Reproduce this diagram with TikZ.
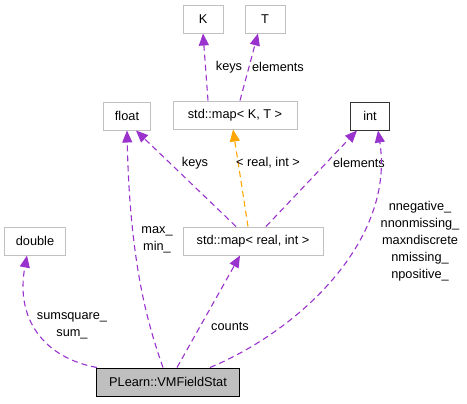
\documentclass[tikz,border=0pt]{standalone}
\usepackage{fontspec}
\setmainfont{Liberation Sans}
\usetikzlibrary{arrows.meta,calc}
\definecolor{edgep}{HTML}{9A32CD}
\definecolor{edgeo}{HTML}{FFA500}
\definecolor{boxg}{HTML}{C0C0C0}
\definecolor{fillg}{HTML}{BFBFBF}
\begin{document}
\begin{tikzpicture}[x=1bp,y=-1bp,
  box/.style={draw=boxg, line width=1bp, minimum height=28bp, inner sep=0pt, fill=white, font=\fontsize{12.8}{17}\selectfont},
  lbl/.style={font=\fontsize{12.8}{17}\selectfont, inner sep=0pt, align=center},
  dep/.style={draw=edgep, line width=1.1bp, dash pattern=on 6bp off 4bp, -{Triangle[length=12bp,width=10bp,fill=edgep]}},
  tpl/.style={draw=edgeo, line width=1.1bp, dash pattern=on 6bp off 4bp, -{Triangle[length=12bp,width=10bp,fill=edgeo]}}
]
\useasboundingbox (0,0) rectangle (467,403);
% nodes
\node[box, minimum width=40bp] (K) at (203,19) {K};
\node[box, minimum width=40bp] (T) at (265,19) {T};
\node[box, minimum width=124bp] (mapKT) at (235,115) {std::map< K, T >};
\node[box, minimum width=47bp] (float) at (127,116) {float};
\node[box, minimum width=39bp, draw=black!80] (int) at (370,116) {int};
\node[box, minimum width=61bp] (double) at (35,241) {double};
\node[box, minimum width=140bp] (mapRI) at (253,241) {std::map< real, int >};
\node[box, minimum width=143bp, draw=black, fill=fillg] (vm) at (168,382) {PLearn::VMFieldStat};
% edges
\draw[dep] ([xshift=-27bp]mapKT.north) -- ([xshift=0bp]K.south);
\node[lbl] (lk) at (229,67) {keys};
\draw[dep] ([xshift=5bp]mapKT.north) -- ([xshift=-7bp]T.south);
\node[lbl] (le) at (278,67) {elements};
\draw[tpl] ([xshift=-5bp]mapRI.north) -- ([xshift=-2bp]mapKT.south);
\node[lbl] (lr) at (268,163) {< real, int >};
\draw[dep] ([xshift=-17bp]mapRI.north) -- ([xshift=9bp]float.south);
\node[lbl] (lk2) at (195,163) {keys};
\draw[dep] ([xshift=13bp]mapRI.north) -- ([xshift=-13bp]int.south);
\node[lbl] (le2) at (359,163) {elements};
\draw[dep] ([xshift=42bp]vm.north) .. controls (300,330) and (395,240) .. ([xshift=8bp]int.south);
\node[lbl] (ln) at (420,241) {nnegative\_\\nnonmissing\_\\maxndiscrete\\nmissing\_\\npositive\_};
\draw[dep] ([xshift=-5bp]vm.north) .. controls (150,330) and (130,270) .. (float.south);
\node[lbl] (lm) at (157,240) {max\_\\min\_};
\draw[dep] ([xshift=9bp]vm.north) -- ([xshift=-13bp]mapRI.south);
\node[lbl] (lc) at (230,326) {counts};
\draw[dep] ([xshift=-71bp]vm.north) .. controls (45,358) and (15,320) .. ([xshift=-8bp]double.south);
\node[lbl] (ls) at (72,326) {sumsquare\_\\sum\_};
\end{tikzpicture}
\end{document}
